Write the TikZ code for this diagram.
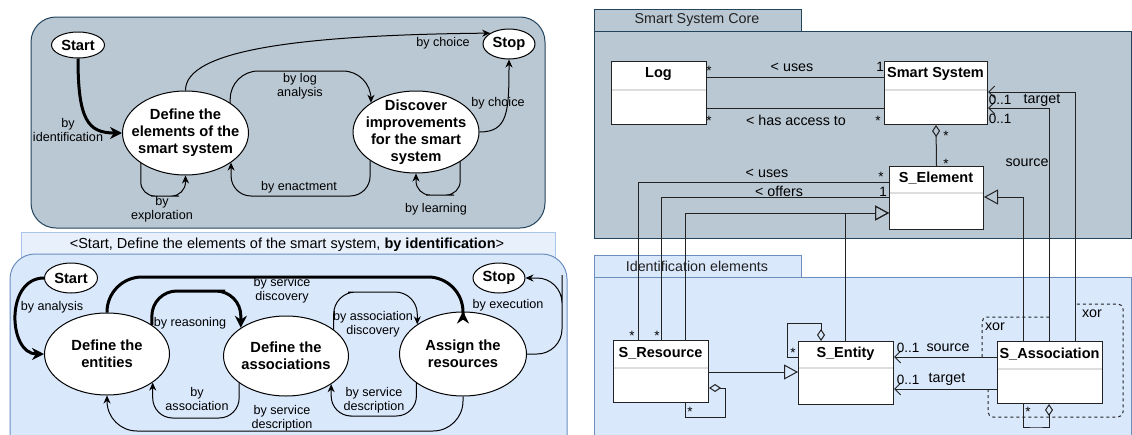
\documentclass[tikz,border=0pt]{standalone}
\usepackage{fontspec}
\setmainfont{Liberation Sans}
\usetikzlibrary{shapes.geometric,arrows.meta}
\definecolor{grayfill}{HTML}{BAC8D3}
\definecolor{graydraw}{HTML}{23445D}
\definecolor{bluefill}{HTML}{DAE8FC}
\definecolor{bluedraw}{HTML}{6C8EBF}
\definecolor{bandfill}{HTML}{E8F0FC}
\definecolor{banddraw}{HTML}{A9C4EB}
\definecolor{sepgray}{HTML}{DDDDDD}
\definecolor{ink}{HTML}{222222}
\begin{document}
\begin{tikzpicture}[x=1pt,y=-1pt,line width=1pt,
 state/.style={ellipse,draw,fill=white,inner sep=0pt,font=\fontsize{14.7}{17}\selectfont\bfseries},
 stxt/.style={font=\fontsize{14.7}{17}\selectfont\bfseries,align=center,inner sep=0pt},
 lbl/.style={font=\fontsize{12.6}{14}\selectfont,align=center,inner sep=0pt},
 arr/.style={-{Stealth[length=8pt,width=7pt]}},
 tharr/.style={line width=3pt,-{Stealth[length=12pt,width=12pt]}},
 cls/.style={draw=ink,fill=white,anchor=north west,inner sep=0pt},
 ctitle/.style={font=\fontsize{14.5}{17}\selectfont\bfseries,inner sep=0pt},
 rtxt/.style={font=\fontsize{14.3}{17}\selectfont,inner sep=0pt},
 mult/.style={font=\fontsize{13.5}{16}\selectfont,inner sep=0pt},
 gen/.style={draw=ink,-{Triangle[open,length=14pt,width=15pt]}},
 nav/.style={draw=ink,-{Straight Barb[length=6pt,width=12pt]}},
 agg/.style={draw=ink,{Diamond[open,length=12pt,width=8pt]}-},
 assocline/.style={draw=ink},
 sep/.style={draw=sepgray,line width=1.5pt,shorten <=0.6pt,shorten >=0.6pt},
 xorline/.style={draw=ink,dash pattern=on 3pt off 3pt,rounded corners=5pt}
]
\useasboundingbox (0,0) rectangle (1132,434);
\fill[white] (0,0) rectangle (1132,434);

% ---------- top-left process panel ----------
\draw[fill=grayfill,draw=graydraw,rounded corners=25pt] (31,17) rectangle (545,228);

\node[state,minimum width=53pt,minimum height=26pt] (start1) at (78,45) {Start};
\node[state,minimum width=126pt,minimum height=84pt,
  label={[stxt]center:{Define the\\elements of the\\smart system}}] (def1) at (185.5,133) {};
\node[state,minimum width=52pt,minimum height=30pt] (stop1) at (509,44) {Stop};
\node[state,minimum width=126pt,minimum height=82pt,
  label={[stxt]center:{Discover\\improvements\\for the smart\\system}}] (disc) at (416,132) {};

\draw[tharr] (start1.south) .. controls (78,120) and (88,133) .. (def1.west);
\node[lbl] (l1) at (68,130) {by\\identification};
\draw[arr] (def1.90) .. controls (185,50) and (300,35) .. (stop1.150);
\node[lbl] (l2) at (443,43) {by choice};
\draw[arr,rounded corners=28pt] (def1.34) |- (300,71) -| (disc.147);
\node[lbl] (l3) at (300,86) {by log\\analysis};
\draw[arr,rounded corners=20pt] (disc.212) |- (300,196) -| (def1.327);
\node[lbl] (l4) at (299,187) {by enactment};
\draw[arr,rounded corners=14pt] (def1.214) |- (165,196) -| (def1.270);
\node[lbl] (l5) at (162,209) {by\\exploration};
\draw[arr,rounded corners=14pt] (disc.326) |- (440,195) -| (disc.270);
\node[lbl] (l6) at (436,209) {by learning};
\draw[arr] (disc.0) .. controls (508,132) and (509,112) .. (stop1.270);
\node[lbl] (l7) at (498,103) {by choice};

% ---------- bottom-left process panel ----------
\draw[fill=bandfill,draw=banddraw] (21,232) rectangle (555,262);
\draw[fill=bluefill,draw=bluedraw,rounded corners=25pt] (10,254) rectangle (567,480);
\node[font=\fontsize{14.5}{17}\selectfont,inner sep=0pt] (band) at (287,245)
  {<Start, Define the elements of the smart system, \textbf{by identification}>};

\node[state,minimum width=53pt,minimum height=30pt] (start2) at (71,278) {Start};
\node[state,minimum width=125pt,minimum height=82pt,
  label={[stxt]center:{Define the\\entities}}] (ent) at (107,354) {};
\node[state,minimum width=125pt,minimum height=80pt,
  label={[stxt]center:{Define the\\associations}}] (assoc) at (286,356) {};
\node[state,minimum width=127pt,minimum height=84pt,
  label={[stxt]center:{Assign the\\resources}}] (res) at (463,354) {};
\node[state,minimum width=52pt,minimum height=30pt] (stop2) at (499,278) {Stop};

\draw[tharr] (start2.west) .. controls (5,278) and (8,354) .. (ent.west);
\node[lbl] (m1) at (52,307) {by analysis};
\draw[tharr,rounded corners=35pt] (ent.90) |- (300,277) -| (res.90);
\node[lbl] (m2) at (282,290) {by service\\discovery};
\draw[tharr,rounded corners=25pt] (ent.33) |- (200,291) -| (assoc.148);
\node[lbl] (m3) at (190,323) {by reasoning};
\draw[arr,rounded corners=22pt] (assoc.29) |- (370,292) -| (res.147);
\node[lbl] (m4) at (373,324) {by association\\discovery};
\draw[arr,rounded corners=20pt] (res.212) |- (370,416) -| (assoc.328);
\node[lbl] (m5) at (374,400) {by service\\description};
\draw[arr,rounded corners=20pt] (assoc.210) |- (196,418) -| (ent.328);
\node[lbl] (m6) at (197,399) {by\\association};
\draw[arr,rounded corners=30pt] (res.270) |- (280,431) -| (ent.270);
\node[lbl] (m7) at (282,418) {by service\\description};
\draw[arr,rounded corners=25pt] (res.0) -| (562,300) |- (stop2.0);
\node[lbl] (m8) at (508,305) {by execution};

% ---------- right: UML packages ----------
\draw[fill=grayfill,draw=graydraw] (594,9) rectangle (801,31);
\draw[fill=grayfill,draw=graydraw] (594,31) rectangle (1131.5,238);
\node[rtxt,text=ink] (pk1) at (697,20) {Smart System Core};
\draw[fill=bluefill,draw=bluedraw] (594,255) rectangle (801,277);
\draw[fill=bluefill,draw=bluedraw] (594,277) rectangle (1131.5,440);
\node[rtxt,text=ink] (pk2) at (697,266) {Identification elements};

% classes
\node[cls,minimum width=95pt,minimum height=63pt] (log) at (611,61) {};
\draw[sep] ([yshift=-29pt]log.north west) -- ([yshift=-29pt]log.north east);
\node[ctitle] (logt) at (658.5,74) {Log};
\node[cls,minimum width=103pt,minimum height=63pt] (ss) at (884,61) {};
\draw[sep] ([yshift=-29pt]ss.north west) -- ([yshift=-29pt]ss.north east);
\node[ctitle] (sst) at (935.5,74) {Smart System};
\node[cls,minimum width=94pt,minimum height=63pt] (sel) at (889,166) {};
\draw[sep] ([yshift=-27pt]sel.north west) -- ([yshift=-27pt]sel.north east);
\node[ctitle] (selt) at (936,178.5) {S\_Element};
\node[cls,minimum width=95pt,minimum height=62pt] (sres) at (613,340) {};
\draw[sep] ([yshift=-28pt]sres.north west) -- ([yshift=-28pt]sres.north east);
\node[ctitle] (srest) at (660.5,353) {S\_Resource};
\node[cls,minimum width=95pt,minimum height=63pt] (sent) at (798,341) {};
\draw[sep] ([yshift=-27pt]sent.north west) -- ([yshift=-27pt]sent.north east);
\node[ctitle] (sentt) at (845.5,353.5) {S\_Entity};
\node[cls,minimum width=105pt,minimum height=62pt] (sass) at (997,341) {};
\draw[sep] ([yshift=-28pt]sass.north west) -- ([yshift=-28pt]sass.north east);
\node[ctitle] (sasst) at (1049.5,354) {S\_Association};

% associations in core
\draw[assocline] ([yshift=-16pt]log.north east) -- ([yshift=-16pt]ss.north west);
\node[mult] (u1) at (709,71) {*};
\node[mult] (u2) at (880,67) {1};
\node[rtxt] (u3) at (792,67) {< uses};
\draw[assocline] ([yshift=-47pt]log.north east) -- ([yshift=-47pt]ss.north west);
\node[mult] (h1) at (709,121) {*};
\node[mult] (h2) at (878,121) {*};
\node[rtxt] (h3) at (796,120) {< has access to};
\draw[agg] (ss.south) -- (sel.north);
\node[mult] (a1) at (946,136) {*};
\node[mult] (a2) at (946,164) {*};

% S_Element -- S_Resource
\draw[assocline] ([yshift=-16pt]sel.north west) -| ([xshift=25pt]sres.north west);
\node[mult] (r1) at (881,177) {*};
\node[rtxt] (r2) at (767,173) {< uses};
\node[mult] (r3) at (632,336) {*};
\draw[assocline] ([yshift=-31pt]sel.north west) -| ([xshift=48pt]sres.north west);
\node[mult] (o1) at (883,192) {1};
\node[rtxt] (o2) at (779,191) {< offers};
\node[mult] (o3) at (657,336) {*};

% generalizations
\draw[gen] ([xshift=72pt]sres.north west) |- ([yshift=-47pt]sel.north west);
\draw[gen] ([xshift=47pt]sent.north west) |- ([yshift=-47pt]sel.north west);
\draw[gen] ([xshift=26pt]sass.north west) |- ([yshift=-31pt]sel.north east);
\draw[gen] ([yshift=-32pt]sres.north east) -- ([yshift=-31pt]sent.north west);

% S_Association -> Smart System
\draw[nav] ([xshift=52pt]sass.north west) |- ([yshift=-47pt]ss.north east);
\draw[nav] ([xshift=78pt]sass.north west) |- ([yshift=-31pt]ss.north east);
\node[mult] (t1) at (1000,100) {0..1};
\node[rtxt] (t2) at (1042,100) {target};
\node[mult] (s1) at (1000,119) {0..1};
\node[rtxt] (s2) at (1027,163) {source};

% self aggregations
\draw[agg] ([yshift=-48pt]sres.north east) -| (725,417) -| ([xshift=72pt]sres.south west);
\node[mult] (q1) at (690,412) {*};
\draw[agg] ([xshift=23pt]sent.north west) |- (787,323) |- ([yshift=-16pt]sent.north west);
\node[mult] (q2) at (793,353) {*};
\draw[agg] ([xshift=52pt]sass.south west) |- (1036,427) -| ([xshift=26pt]sass.south west);
\node[mult] (q3) at (1028,412) {*};

% S_Association -> S_Entity
\draw[nav] ([yshift=-16pt]sass.north west) -- ([yshift=-16pt]sent.north east);
\node[mult] (e1) at (908,348) {0..1};
\node[rtxt] (e2) at (948,348) {source};
\draw[nav] ([yshift=-48pt]sass.north west) -- ([yshift=-48pt]sent.north east);
\node[mult] (e3) at (908,380) {0..1};
\node[rtxt] (e4) at (947,379) {target};

% xor constraints
\coordinate (x1a) at (982,357);
\coordinate (x1b) at (1049,317);
\draw[xorline] (x1a) |- (x1b);
\node[rtxt] (x1) at (995,327) {xor};
\coordinate (x2a) at (988,389);
\coordinate (x2b) at (1123,417);
\coordinate (x2c) at (1075,304);
\draw[xorline] (x2a) |- (x2b) |- (x2c);
\node[rtxt] (x2) at (1092,314) {xor};
\end{tikzpicture}
\end{document}
